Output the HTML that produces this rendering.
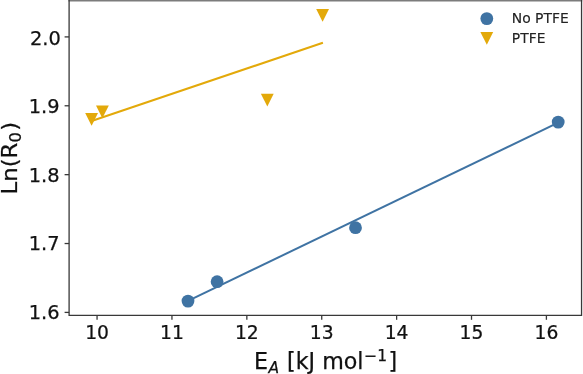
<!DOCTYPE html>
<html lang="en"><head><meta charset="utf-8"><title>Ln(R0) vs EA</title>
<style>html,body{margin:0;padding:0;background:#fff;overflow:hidden}svg{display:block}text{font-family:"DejaVu Sans","Liberation Sans",sans-serif;fill:#111;stroke:#111;stroke-width:0.25px}</style></head><body>
<svg width="583" height="374" viewBox="0 0 583 374">
<rect width="583" height="374" fill="#fff"/>
<line x1="91.60" y1="121.00" x2="322.90" y2="42.80" stroke="#e3a90a" stroke-width="2.0"/>
<line x1="188.00" y1="300.90" x2="558.20" y2="122.70" stroke="#3f73a3" stroke-width="2.0"/>
<circle cx="188.00" cy="301.10" r="6.40" fill="#3f73a3"/>
<circle cx="217.10" cy="281.70" r="6.40" fill="#3f73a3"/>
<circle cx="355.50" cy="227.70" r="6.40" fill="#3f73a3"/>
<circle cx="558.20" cy="122.10" r="6.40" fill="#3f73a3"/>
<polygon points="85.20,113.05 98.00,113.05 91.60,125.85" fill="#e3a90a"/>
<polygon points="96.00,105.50 108.80,105.50 102.40,118.30" fill="#e3a90a"/>
<polygon points="260.90,93.70 273.70,93.70 267.30,106.50" fill="#e3a90a"/>
<polygon points="316.20,9.00 329.00,9.00 322.60,21.80" fill="#e3a90a"/>
<line x1="68.45" y1="0.75" x2="582.20" y2="0.75" stroke="#7c7c7c" stroke-width="1.5"/>
<path d="M69.10,0 V315.30 H581.55 V0" fill="none" stroke="#383838" stroke-width="1.30" stroke-linejoin="miter"/>
<line x1="97.06" y1="315.30" x2="97.06" y2="319.80" stroke="#383838" stroke-width="1.30"/>
<text transform="translate(97.06,338.80) scale(0.965,1)" font-size="19.40" text-anchor="middle">10</text>
<line x1="171.95" y1="315.30" x2="171.95" y2="319.80" stroke="#383838" stroke-width="1.30"/>
<text transform="translate(171.95,338.80) scale(0.965,1)" font-size="19.40" text-anchor="middle">11</text>
<line x1="246.84" y1="315.30" x2="246.84" y2="319.80" stroke="#383838" stroke-width="1.30"/>
<text transform="translate(246.84,338.80) scale(0.965,1)" font-size="19.40" text-anchor="middle">12</text>
<line x1="321.73" y1="315.30" x2="321.73" y2="319.80" stroke="#383838" stroke-width="1.30"/>
<text transform="translate(321.73,338.80) scale(0.965,1)" font-size="19.40" text-anchor="middle">13</text>
<line x1="396.62" y1="315.30" x2="396.62" y2="319.80" stroke="#383838" stroke-width="1.30"/>
<text transform="translate(396.62,338.80) scale(0.965,1)" font-size="19.40" text-anchor="middle">14</text>
<line x1="471.51" y1="315.30" x2="471.51" y2="319.80" stroke="#383838" stroke-width="1.30"/>
<text transform="translate(471.51,338.80) scale(0.965,1)" font-size="19.40" text-anchor="middle">15</text>
<line x1="546.40" y1="315.30" x2="546.40" y2="319.80" stroke="#383838" stroke-width="1.30"/>
<text transform="translate(546.40,338.80) scale(0.965,1)" font-size="19.40" text-anchor="middle">16</text>
<line x1="64.60" y1="312.40" x2="69.10" y2="312.40" stroke="#383838" stroke-width="1.30"/>
<text x="59.50" y="319.20" font-size="19.40" text-anchor="end">1.6</text>
<line x1="64.60" y1="243.53" x2="69.10" y2="243.53" stroke="#383838" stroke-width="1.30"/>
<text x="59.50" y="250.20" font-size="19.40" text-anchor="end">1.7</text>
<line x1="64.60" y1="174.65" x2="69.10" y2="174.65" stroke="#383838" stroke-width="1.30"/>
<text x="59.50" y="182.10" font-size="19.40" text-anchor="end">1.8</text>
<line x1="64.60" y1="105.78" x2="69.10" y2="105.78" stroke="#383838" stroke-width="1.30"/>
<text x="59.50" y="113.25" font-size="19.40" text-anchor="end">1.9</text>
<line x1="64.60" y1="36.90" x2="69.10" y2="36.90" stroke="#383838" stroke-width="1.30"/>
<text x="60.80" y="44.50" font-size="19.40" text-anchor="end">2.0</text>
<text font-size="22.20"><tspan x="254.1" y="369.00">E</tspan><tspan x="268.6" y="372.50" font-size="15.50" font-style="italic">A</tspan><tspan x="280.04" y="369.00"> [kJ mol</tspan><tspan x="364.3" y="360.90" font-size="15.50">−1</tspan><tspan x="388.5" y="369.00">]</tspan></text>
<text transform="rotate(-90) translate(-157.9,0) scale(1.05,1) translate(158.4,0)" font-size="21.70"><tspan x="-193.2" y="17.10">Ln(R</tspan><tspan font-size="15.50" dy="3.9">0</tspan><tspan dy="-3.9" dx="1.4">)</tspan></text>
<circle cx="486.8" cy="18.6" r="6.4" fill="#3f73a3"/>
<polygon points="480.40,32.00 493.20,32.00 486.80,44.80" fill="#e3a90a"/>
<text x="511.8" y="23.3" font-size="13.90" style="stroke-width:0.12px;fill:#222;stroke:#222">No PTFE</text>
<text x="511.8" y="42.9" font-size="13.90" style="stroke-width:0.12px;fill:#222;stroke:#222">PTFE</text>
</svg></body></html>
